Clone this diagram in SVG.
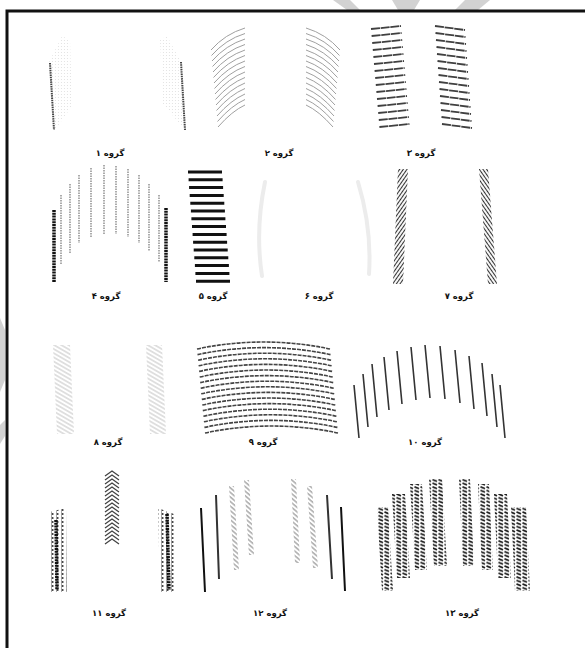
<svg xmlns="http://www.w3.org/2000/svg" xmlns:xlink="http://www.w3.org/1999/xlink" width="585" height="648" viewBox="0 0 585 648">
<style>
.lbl{font-family:"DejaVu Sans","Noto Sans",sans-serif;font-size:8.5px;font-weight:bold;fill:#111;text-anchor:middle}
.wm{fill:#d2d2d2}
.frame{fill:none;stroke:#111;stroke-width:3}
.g2{fill:none;stroke:#a0a0a0;stroke-width:1}
.g3{fill:none;stroke:#404040;stroke-width:1.8;stroke-dasharray:9 0.7}
.thick{fill:none;stroke:#111;stroke-width:3.5;stroke-dasharray:2 0.8}
.inner{fill:none;stroke:#888;stroke-width:1.4;stroke-dasharray:1.5 1}
.g5{fill:none;stroke:#111;stroke-width:3}
.g9{fill:none;stroke:#444;stroke-width:1.6;stroke-dasharray:4 1}
.g10{fill:none;stroke:#333;stroke-width:1.6}
.dark{fill:none;stroke:#444;stroke-width:2;stroke-dasharray:1.5 0.8}
.smear{fill:none;stroke:#ececec;stroke-width:4;stroke-linecap:round}
</style>
<defs>
<pattern id="pFaint" width="3" height="3" patternUnits="userSpaceOnUse"><circle cx="1.5" cy="1.5" r="0.6" fill="#e0e0e0"/></pattern>
<pattern id="pG7a" width="6" height="3" patternUnits="userSpaceOnUse" patternTransform="rotate(-55)"><line x1="0" y1="1.5" x2="6" y2="1.5" stroke="#333" stroke-width="1.1"/></pattern>
<pattern id="pG7b" width="6" height="3" patternUnits="userSpaceOnUse" patternTransform="rotate(55)"><line x1="0" y1="1.5" x2="6" y2="1.5" stroke="#333" stroke-width="1.1"/></pattern>
<pattern id="pG8" width="6" height="3.6" patternUnits="userSpaceOnUse" patternTransform="rotate(30)"><line x1="0" y1="1.8" x2="6" y2="1.8" stroke="#bbb" stroke-width="0.9"/></pattern>
<pattern id="pG12" width="6" height="3.5" patternUnits="userSpaceOnUse" patternTransform="rotate(40)"><line x1="0" y1="1.7" x2="6" y2="1.7" stroke="#8a8a8a" stroke-width="1.1"/></pattern>
<pattern id="pTick" width="5" height="4" patternUnits="userSpaceOnUse"><path d="M1,0.8 L3.5,2 L1,3.2" fill="none" stroke="#444" stroke-width="1"/></pattern>
<pattern id="pDash" width="6" height="3.6" patternUnits="userSpaceOnUse"><path d="M0.5,0.8 L5,2.6" stroke="#1a1a1a" stroke-width="1.6"/></pattern>
</defs>
<rect width="585" height="648" fill="#fff"/>
<g id="watermark">
<polygon class="wm" points="333,0 350,0 360,10 347,10"/>
<polygon class="wm" points="392,0 420,0 414,10 398,10"/>
<polygon class="wm" points="455,10 465,0 490,0 478,10"/>
<polygon class="wm" points="0,318 5,330 5,380 0,392"/>
<polygon class="wm" points="0,425 5,420 5,436 0,444"/>
</g>
<path class="frame" d="M7,648 V11 H585"/>

<g id="group1">
<polygon points="49,62 62,36 70,40 72,106 55,130" fill="url(#pFaint)"/>
<path class="dark" d="M50,63 L54,130"/>
<polygon points="160,40 167,36 181,62 185,130 163,104" fill="url(#pFaint)"/>
<path class="dark" d="M181,62 L185,130"/>
<text class="lbl" x="110" y="156">گروه ۱</text>
</g>

<g id="group2">
<g id="g2left">
<path class="g2" d="M211,50 Q225,34 245,28 M211.5,55.5 Q225.5,39.5 245,33.5 M212,61 Q226,45 245,39 M212.5,66.5 Q226.5,50.5 245,44.5 M213,72 Q227,56 245,50 M213.5,77.5 Q227.5,61.5 245,55.5 M214,83 Q228,67 245,61 M214.5,88.5 Q228.5,72.5 245,66.5 M215,94 Q229,78 245,72 M215.5,99.5 Q229.5,83.5 245,77.5 M216,105 Q230,89 245,83 M216.5,110.5 Q230.5,94.5 245,88.5 M217,116 Q231,100 245,94 M217.5,121.5 Q231.5,105.5 245,99.5 M218,127 Q232,111 245,105"/>
</g>
<use xlink:href="#g2left" href="#g2left" transform="matrix(-1 0 0 1 551 0)"/>
<text class="lbl" x="279" y="156">گروه ۲</text>
</g>

<g id="group3">
<path class="g3" d="M371,29 L401,26 M371.6,36 L401.6,33 M372.2,43 L402.2,40 M372.8,50 L402.8,47 M373.4,57 L403.4,54 M374,64 L404,61 M374.6,71 L404.6,68 M375.2,78 L405.2,75 M375.8,85 L405.8,82 M376.4,92 L406.4,89 M377,99 L407,96 M377.6,106 L407.6,103 M378.2,113 L408.2,110 M378.8,120 L408.8,117 M379.4,127 L409.4,124"/>
<path class="g3" d="M435,26 L465,30 M435.5,33 L465.5,37 M436,40 L466,44 M436.5,47 L466.5,51 M437,54 L467,58 M437.5,61 L467.5,65 M438,68 L468,72 M438.5,75 L468.5,79 M439,82 L469,86 M439.5,89 L469.5,93 M440,96 L470,100 M440.5,103 L470.5,107 M441,110 L471,114 M441.5,117 L471.5,121 M442,124 L472,128"/>
<text class="lbl" x="421" y="156">گروه ۳</text>
</g>

<g id="group4">
<path class="inner" d="M61,195V264 M70,184V253 M79,175V243 M91,168V237 M104,165V234 M116,166V234 M128,169V237 M139,175V243 M149,184V251 M159,195V262"/>
<path class="thick" d="M54,210V282 M166,208V282"/>
<text class="lbl" x="106" y="299">گروه ۴</text>
</g>

<g id="group5">
<path class="g5" d="M188,172H222 M188.6,179.8H222.6 M189.1,187.6H223.1 M189.7,195.4H223.7 M190.3,203.2H224.3 M190.9,211H224.9 M191.4,218.8H225.4 M192,226.6H226 M192.6,234.4H226.6 M193.1,242.2H227.1 M193.7,250H227.7 M194.3,257.8H228.3 M194.9,265.6H228.9 M195.4,273.4H229.4 M196,281.2H230"/>
<text class="lbl" x="213" y="299">گروه ۵</text>
</g>

<g id="group6">
<path class="smear" d="M265,182 Q255,230 262,276"/>
<path class="smear" d="M358,182 Q372,228 369,274"/>
<text class="lbl" x="319" y="299">گروه ۶</text>
</g>

<g id="group7">
<polygon points="398,169 408,169 403,284 393,284" fill="url(#pG7a)"/>
<polygon points="479,169 488,169 497,284 488,284" fill="url(#pG7b)"/>
<text class="lbl" x="459" y="299">گروه ۷</text>
</g>

<g id="group8">
<polygon points="53,345 70,345 74,434 57,434" fill="url(#pG8)"/>
<polygon points="146,345 162,345 166,434 150,434" fill="url(#pG8)"/>
<text class="lbl" x="108" y="445">گروه ۸</text>
</g>

<g id="group9">
<path class="g9" d="M197,349 Q263.5,335 330,349 M197.5,354.6 Q264,340.6 330.5,354.6 M198.1,360.2 Q264.6,346.2 331.1,360.2 M198.6,365.8 Q265.1,351.8 331.6,365.8 M199.1,371.4 Q265.6,357.4 332.1,371.4 M199.7,377 Q266.2,363 332.7,377 M200.2,382.6 Q266.7,368.6 333.2,382.6 M200.7,388.2 Q267.2,374.2 333.7,388.2 M201.2,393.8 Q267.7,379.8 334.2,393.8 M201.8,399.4 Q268.3,385.4 334.8,399.4 M202.3,405 Q268.8,391 335.3,405 M202.8,410.6 Q269.3,396.6 335.8,410.6 M203.4,416.2 Q269.9,402.2 336.4,416.2 M203.9,421.8 Q270.4,407.8 336.9,421.8 M204.4,427.4 Q270.9,413.4 337.4,427.4 M205,433 Q271.5,419 338,433"/>
<text class="lbl" x="263" y="445">گروه ۹</text>
</g>

<g id="group10">
<path class="g10" d="M354,385 L359,438 M363,374 L368,427 M372,364 L377,417 M384,357 L389,410 M397,351 L402,404 M411,347 L416,400 M425,345 L430,398 M440,346 L445,399 M455,350 L460,403 M469,356 L474,409 M482,363 L487,416 M492,374 L497,427 M500,385 L505,438"/>
<text class="lbl" x="425" y="445">گروه ۱۰</text>
</g>

<g id="group11">
<polygon points="49,512 66,508 67,592 51,592" fill="url(#pTick)"/>
<path class="thick" d="M56,520 L57,590"/>
<path fill="none" stroke="#444" stroke-width="1.3" d="M105,476 L112,471 L119,476 M105,480 L112,475 L119,480 M105,484 L112,479 L119,484 M105,488 L112,483 L119,488 M105,492 L112,487 L119,492 M105,496 L112,491 L119,496 M105,500 L112,495 L119,500 M105,504 L112,499 L119,504 M105,508 L112,503 L119,508 M105,512 L112,507 L119,512 M105,516 L112,511 L119,516 M105,520 L112,515 L119,520 M105,524 L112,519 L119,524 M105,528 L112,523 L119,528 M105,532 L112,527 L119,532 M105,536 L112,531 L119,536 M105,540 L112,535 L119,540 M105,544 L112,539 L119,544"/>
<polygon points="158,508 174,514 176,592 160,592" fill="url(#pTick)"/>
<path class="thick" d="M167,514 L169,590"/>
<text class="lbl" x="109" y="616">گروه ۱۱</text>
</g>

<g id="group12">
<path fill="none" stroke="#111" stroke-width="2" d="M201,508 L205,592 M341,507 L345,591"/>
<path fill="none" stroke="#333" stroke-width="2" d="M216,495 L219,579 M327,495 L332,579"/>
<polygon points="229,486 234,486 239,570 234,570" fill="url(#pG12)"/>
<polygon points="244,480 249,480 254,555 249,555" fill="url(#pG12)"/>
<polygon points="291,479 296,479 300,563 295,563" fill="url(#pG12)"/>
<polygon points="307,486 312,486 318,568 313,568" fill="url(#pG12)"/>
<text class="lbl" x="270" y="616">گروه ۱۲</text>
</g>

<g id="group13">
<polygon points="377,507 388,507 393,591 382,591" fill="url(#pDash)"/>
<polygon points="392,494 405,494 410,578 397,578" fill="url(#pDash)"/>
<polygon points="410,484 422,484 427,570 415,570" fill="url(#pDash)"/>
<polygon points="429,479 442,479 447,566 434,566" fill="url(#pDash)"/>
<polygon points="459,479 470,479 474,566 463,566" fill="url(#pDash)"/>
<polygon points="478,484 489,484 493,570 482,570" fill="url(#pDash)"/>
<polygon points="494,494 507,494 511,578 498,578" fill="url(#pDash)"/>
<polygon points="511,507 526,507 530,591 515,591" fill="url(#pDash)"/>
<text class="lbl" x="462" y="616">گروه ۱۳</text>
</g>
</svg>
